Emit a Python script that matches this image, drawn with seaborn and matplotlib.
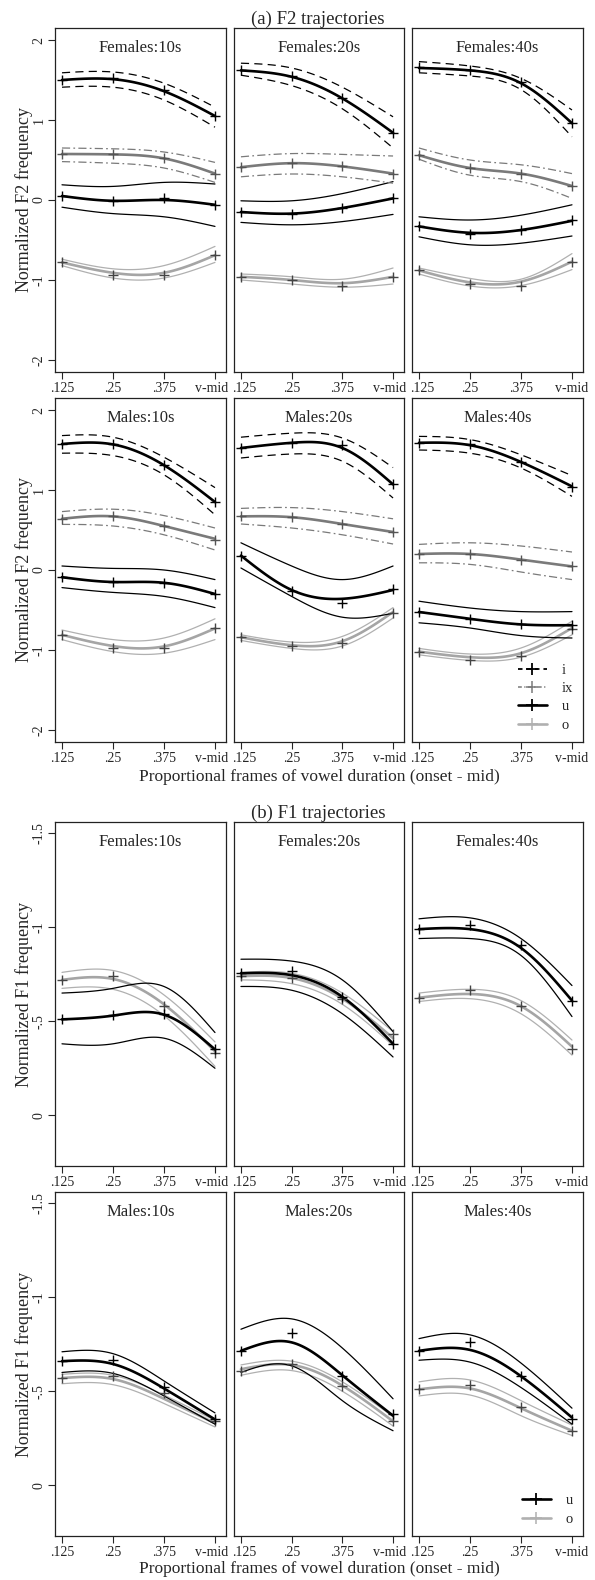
import numpy as np
import pandas as pd
import matplotlib
matplotlib.use("Agg")
import matplotlib.pyplot as plt
import matplotlib.transforms as mtransforms
import seaborn as sns
from matplotlib.lines import Line2D

# ---------------- data ----------------
frames = [".125", ".25", ".375", "v-mid"]
groups_top = ["Females:10s", "Females:20s", "Females:40s"]
groups_bottom = ["Males:10s", "Males:20s", "Males:40s"]
panels = groups_top + groups_bottom

f2_yticks = [2, 1, 0, -1, -2]
f2_yticklabels = ["2", "1", "0", "-1", "-2"]
f1_yticks = [-1.5, -1, -0.5, 0]
f1_yticklabels = ["-1.5", "-1", "-.5", "0"]

# F2 (one list of 4 values per panel, panel order as `panels`)
f2_i_mean = [[1.50, 1.51, 1.36, 1.05], [1.62, 1.54, 1.27, 0.84], [1.65, 1.62, 1.46, 0.96],
             [1.575, 1.57, 1.31, 0.85], [1.525, 1.59, 1.525, 1.07], [1.59, 1.56, 1.35, 1.045]]
f2_i_upper = [[1.59, 1.60, 1.46, 1.16], [1.71, 1.65, 1.41, 1.04], [1.73, 1.675, 1.52, 1.125],
              [1.68, 1.66, 1.41, 1.03], [1.66, 1.71, 1.65, 1.28], [1.67, 1.63, 1.44, 1.18]]
f2_i_lower = [[1.41, 1.41, 1.25, 0.91], [1.56, 1.43, 1.14, 0.65], [1.59, 1.55, 1.38, 0.79],
              [1.46, 1.43, 1.19, 0.69], [1.40, 1.45, 1.36, 0.90], [1.50, 1.46, 1.275, 0.92]]
f2_i_marks = [[1.50, 1.52, 1.37, 1.05], [1.62, 1.55, 1.28, 0.84], [1.66, 1.62, 1.48, 0.96],
              [1.575, 1.58, 1.31, 0.85], [1.525, 1.59, 1.56, 1.07], [1.59, 1.57, 1.35, 1.04]]

f2_ix_mean = [[0.575, 0.57, 0.52, 0.33], [0.41, 0.46, 0.42, 0.33], [0.56, 0.40, 0.33, 0.175],
              [0.64, 0.67, 0.55, 0.39], [0.67, 0.66, 0.575, 0.475], [0.20, 0.20, 0.13, 0.045]]
f2_ix_upper = [[0.65, 0.64, 0.60, 0.47], [0.54, 0.58, 0.57, 0.55], [0.65, 0.50, 0.44, 0.33],
               [0.73, 0.76, 0.68, 0.525], [0.77, 0.78, 0.73, 0.64], [0.32, 0.34, 0.30, 0.225]]
f2_ix_lower = [[0.48, 0.46, 0.40, 0.22], [0.29, 0.325, 0.29, 0.21], [0.51, 0.31, 0.23, 0.02],
               [0.57, 0.55, 0.44, 0.25], [0.575, 0.525, 0.44, 0.325], [0.09, 0.07, -0.025, -0.12]]
f2_ix_marks = [[0.58, 0.57, 0.52, 0.33], [0.41, 0.46, 0.42, 0.33], [0.56, 0.40, 0.33, 0.175],
               [0.64, 0.68, 0.55, 0.38], [0.67, 0.66, 0.575, 0.475], [0.20, 0.20, 0.13, 0.045]]

f2_u_mean = [[0.05, -0.01, 0.00, -0.06], [-0.15, -0.17, -0.10, 0.02], [-0.33, -0.41, -0.375, -0.26],
             [-0.09, -0.15, -0.16, -0.30], [0.18, -0.25, -0.36, -0.25], [-0.525, -0.61, -0.68, -0.69]]
f2_u_upper = [[0.19, 0.17, 0.22, 0.20], [-0.01, -0.01, 0.08, 0.23], [-0.21, -0.25, -0.19, -0.06],
              [0.05, 0.02, 0.0, -0.12], [0.34, 0.05, -0.12, 0.05], [-0.39, -0.475, -0.52, -0.52]]
f2_u_lower = [[-0.09, -0.17, -0.21, -0.33], [-0.28, -0.31, -0.27, -0.18], [-0.46, -0.56, -0.54, -0.45],
              [-0.22, -0.28, -0.33, -0.47], [0.025, -0.33, -0.59, -0.54], [-0.66, -0.725, -0.82, -0.85]]
f2_u_marks = [[0.05, -0.01, 0.02, -0.06], [-0.15, -0.18, -0.10, 0.03], [-0.33, -0.42, -0.37, -0.25],
              [-0.09, -0.15, -0.16, -0.30], [0.18, -0.26, -0.41, -0.24], [-0.525, -0.61, -0.68, -0.69]]

f2_o_mean = [[-0.78, -0.91, -0.91, -0.69], [-0.96, -1.0, -1.04, -0.96], [-0.88, -1.03, -1.02, -0.77],
             [-0.81, -0.95, -0.955, -0.73], [-0.84, -0.94, -0.89, -0.525], [-1.02, -1.09, -1.04, -0.725]]
f2_o_upper = [[-0.74, -0.86, -0.82, -0.58], [-0.925, -0.96, -0.99, -0.85], [-0.85, -0.98, -0.99, -0.67],
              [-0.75, -0.87, -0.85, -0.61], [-0.81, -0.90, -0.83, -0.47], [-0.98, -1.05, -0.975, -0.64]]
f2_o_lower = [[-0.82, -0.975, -0.975, -0.78], [-1.0, -1.05, -1.09, -1.05], [-0.925, -1.075, -1.07, -0.87],
              [-0.87, -1.02, -1.04, -0.87], [-0.88, -0.98, -0.95, -0.60], [-1.06, -1.13, -1.09, -0.81]]
f2_o_marks = [[-0.78, -0.94, -0.94, -0.69], [-0.96, -1.0, -1.08, -0.96], [-0.88, -1.05, -1.08, -0.77],
              [-0.81, -0.98, -0.97, -0.73], [-0.84, -0.95, -0.91, -0.54], [-1.02, -1.13, -1.07, -0.74]]

# F1
f1_u_mean = [[-0.51, -0.53, -0.535, -0.35], [-0.755, -0.745, -0.63, -0.38], [-0.99, -0.99, -0.89, -0.61],
             [-0.66, -0.645, -0.515, -0.35], [-0.715, -0.76, -0.585, -0.37], [-0.715, -0.72, -0.58, -0.36]]
f1_u_upper = [[-0.65, -0.675, -0.685, -0.44], [-0.83, -0.82, -0.72, -0.445], [-1.045, -1.05, -0.94, -0.69],
              [-0.71, -0.70, -0.555, -0.385], [-0.83, -0.885, -0.73, -0.46], [-0.78, -0.80, -0.65, -0.41]]
f1_u_lower = [[-0.38, -0.38, -0.41, -0.25], [-0.685, -0.665, -0.54, -0.31], [-0.94, -0.94, -0.85, -0.525],
              [-0.60, -0.595, -0.475, -0.325], [-0.60, -0.635, -0.45, -0.29], [-0.665, -0.655, -0.52, -0.325]]
f1_u_marks = [[-0.51, -0.535, -0.54, -0.35], [-0.755, -0.77, -0.63, -0.38], [-0.99, -1.01, -0.905, -0.61],
              [-0.66, -0.665, -0.52, -0.35], [-0.715, -0.81, -0.58, -0.38], [-0.715, -0.76, -0.58, -0.355]]

f1_o_mean = [[-0.72, -0.725, -0.59, -0.34], [-0.74, -0.73, -0.62, -0.41], [-0.625, -0.645, -0.58, -0.365],
             [-0.57, -0.565, -0.46, -0.33], [-0.617, -0.64, -0.53, -0.34], [-0.51, -0.515, -0.41, -0.29]]
f1_o_upper = [[-0.76, -0.77, -0.64, -0.39], [-0.76, -0.755, -0.65, -0.445], [-0.65, -0.67, -0.61, -0.40],
              [-0.59, -0.585, -0.48, -0.345], [-0.64, -0.66, -0.55, -0.365], [-0.55, -0.56, -0.45, -0.32]]
f1_o_lower = [[-0.675, -0.67, -0.53, -0.26], [-0.72, -0.70, -0.59, -0.37], [-0.605, -0.62, -0.54, -0.32],
              [-0.54, -0.535, -0.435, -0.31], [-0.585, -0.61, -0.50, -0.315], [-0.475, -0.48, -0.37, -0.265]]
f1_o_marks = [[-0.72, -0.74, -0.58, -0.33], [-0.74, -0.73, -0.62, -0.43], [-0.625, -0.665, -0.58, -0.355],
              [-0.57, -0.58, -0.49, -0.34], [-0.61, -0.645, -0.53, -0.34], [-0.51, -0.535, -0.415, -0.29]]

# ---------------- style ----------------
sns.set_style("ticks")
plt.rcParams["font.family"] = ["Liberation Serif", "DejaVu Serif"]
plt.rcParams["axes.linewidth"] = 0.9
plt.rcParams["xtick.major.size"] = 5
plt.rcParams["ytick.major.size"] = 5
plt.rcParams["xtick.major.width"] = 0.8
plt.rcParams["ytick.major.width"] = 0.8

STY = {
    "i":  dict(color="black",   ci_color="black",   ci_ls=(0, (6.5, 4.2)),           mk="black"),
    "ix": dict(color="#7a7a7a", ci_color="#7a7a7a", ci_ls=(0, (6.5, 2.6, 1.4, 2.6)), mk="#555555"),
    "u":  dict(color="black",   ci_color="black",   ci_ls="-",                       mk="black"),
    "o":  dict(color="#a5a5a5", ci_color="#b0b0b0", ci_ls="-",                       mk="#444444"),
}

W, H = 595, 1580
fig = plt.figure(figsize=(W / 100, H / 100), dpi=100)

col_px = [(55, 226), (234, 404), (412, 583)]
row_px = [(28, 372), (398, 742), (822, 1166), (1192, 1536)]

TICK_FS = 10


def make_ax(r, c):
    l, rr = col_px[c]
    t, b = row_px[r]
    return fig.add_axes([l / W, 1 - b / H, (rr - l) / W, (b - t) / H])


def spline(vals, n=61):
    y = np.asarray(vals, float)
    r1 = 6 * (y[0] - 2 * y[1] + y[2])
    r2 = 6 * (y[1] - 2 * y[2] + y[3])
    m1, m2 = np.linalg.solve([[4.0, 1.0], [1.0, 4.0]], [r1, r2])
    M = [0.0, m1, m2, 0.0]
    xs = np.linspace(0, 3, n)
    out = []
    for x in xs:
        i = min(int(np.floor(x)), 2)
        t = x - i
        out.append(M[i] * (1 - t) ** 3 / 6 + M[i + 1] * t ** 3 / 6
                   + (y[i] - M[i] / 6) * (1 - t) + (y[i + 1] - M[i + 1] / 6) * t)
    return xs, np.array(out)


def draw_vowel(ax, v, mean, up, lo, mk):
    s = STY[v]
    for ci in (up, lo):
        xs, ys = spline(ci)
        sns.lineplot(x=xs, y=ys, ax=ax, color=s["ci_color"], lw=0.9, linestyle=s["ci_ls"],
                     sort=False, errorbar=None)
    xs, ys = spline(mean)
    sns.lineplot(x=xs, y=ys, ax=ax, color=s["color"], lw=1.9, sort=False, errorbar=None)
    sns.scatterplot(x=np.arange(4), y=mk, ax=ax, marker="+", s=60, color=s["mk"],
                    linewidth=1.0, legend=False, zorder=5)


def style_ax(ax, col, yticks, yticklabels, ylim):
    ax.set_xlim(-0.137, 3.216)
    ax.set_ylim(*ylim)
    ax.set_xticks(range(4))
    ax.set_xticklabels(frames, fontsize=TICK_FS)
    ax.tick_params(axis="x", pad=2)
    # nudge the edge labels a little so neighbouring panels' labels do not collide
    ticks = ax.xaxis.get_major_ticks()
    if col > 0:
        lab = ticks[0].label1
        lab.set_transform(lab.get_transform() + mtransforms.ScaledTranslation(3.5 / 100, 0, fig.dpi_scale_trans))
    if col < 2:
        lab = ticks[3].label1
        lab.set_transform(lab.get_transform() + mtransforms.ScaledTranslation(-3.5 / 100, 0, fig.dpi_scale_trans))
    if col == 0:
        ax.set_yticks(yticks)
        ax.set_yticklabels(yticklabels, rotation=90, va="center", fontsize=TICK_FS)
        ax.tick_params(axis="y", pad=2)
    else:
        ax.set_yticks([])
    for sp in ax.spines.values():
        sp.set_visible(True)
        sp.set_color("#222222")
    ax.set_xlabel("")
    ax.set_ylabel("")


f2_sets = {
    "o": (f2_o_mean, f2_o_upper, f2_o_lower, f2_o_marks),
    "u": (f2_u_mean, f2_u_upper, f2_u_lower, f2_u_marks),
    "ix": (f2_ix_mean, f2_ix_upper, f2_ix_lower, f2_ix_marks),
    "i": (f2_i_mean, f2_i_upper, f2_i_lower, f2_i_marks),
}
f1_sets = {
    "o": (f1_o_mean, f1_o_upper, f1_o_lower, f1_o_marks),
    "u": (f1_u_mean, f1_u_upper, f1_u_lower, f1_u_marks),
}

LEG_KW = dict(loc="lower right", frameon=False, fontsize=10.5, handlelength=2.0,
              handletextpad=1.0, labelspacing=0.35, borderaxespad=0.3)

# ---------------- F2 ----------------
for p, name in enumerate(panels):
    r, c = divmod(p, 3)
    ax = make_ax(r, c)
    for v, (m, u_, l_, k) in f2_sets.items():
        draw_vowel(ax, v, m[p], u_[p], l_[p], k[p])
    style_ax(ax, c, f2_yticks, f2_yticklabels, (-2.15, 2.15))
    ax.text(0.5, 0.942, name, transform=ax.transAxes, ha="center", va="center", fontsize=12)
    if p == 5:
        handles = [
            Line2D([], [], color="black", ls=(0, (2.5, 2.2)), lw=1.3, marker="+", ms=9, mew=1.3),
            Line2D([], [], color="#7a7a7a", ls=(0, (2.5, 1.6, 0.8, 1.6)), lw=1.1, marker="+", ms=9, mew=1.1),
            Line2D([], [], color="black", ls="-", lw=1.9, marker="+", ms=9, mew=1.3),
            Line2D([], [], color="#b0b0b0", ls="-", lw=1.9, marker="+", ms=9, mew=1.1),
        ]
        ax.legend(handles, ["i", "ix", "u", "o"], **LEG_KW)

# ---------------- F1 ----------------
for p, name in enumerate(panels):
    r, c = divmod(p, 3)
    ax = make_ax(r + 2, c)
    for v, (m, u_, l_, k) in f1_sets.items():
        draw_vowel(ax, v, m[p], u_[p], l_[p], k[p])
    style_ax(ax, c, f1_yticks, f1_yticklabels, (0.27, -1.56))
    ax.text(0.5, 0.942, name, transform=ax.transAxes, ha="center", va="center", fontsize=12)
    if p == 5:
        handles = [
            Line2D([], [], color="black", ls="-", lw=1.9, marker="+", ms=9, mew=1.3),
            Line2D([], [], color="#b0b0b0", ls="-", lw=1.9, marker="+", ms=9, mew=1.1),
        ]
        ax.legend(handles, ["u", "o"], **LEG_KW)

# ---------------- figure texts ----------------
fig.text(318 / W, 1 - 24 / H, "(a) F2 trajectories", ha="center", va="baseline", fontsize=13.5)
fig.text(318 / W, 1 - 818 / H, "(b) F1 trajectories", ha="center", va="baseline", fontsize=13.5)
xlab = "Proportional frames of vowel duration (onset - mid)"
fig.text(319 / W, 1 - 781 / H, xlab, ha="center", va="baseline", fontsize=12.5)
fig.text(319 / W, 1 - 1573 / H, xlab, ha="center", va="baseline", fontsize=12.5)
for (t, b), lab in zip(row_px, ["Normalized F2 frequency", "Normalized F2 frequency",
                                "Normalized F1 frequency", "Normalized F1 frequency"]):
    fig.text(24 / W, 1 - (t + b) / 2 / H, lab, rotation=90, ha="center", va="center", fontsize=13)

fig.savefig("out.png", dpi=100)
